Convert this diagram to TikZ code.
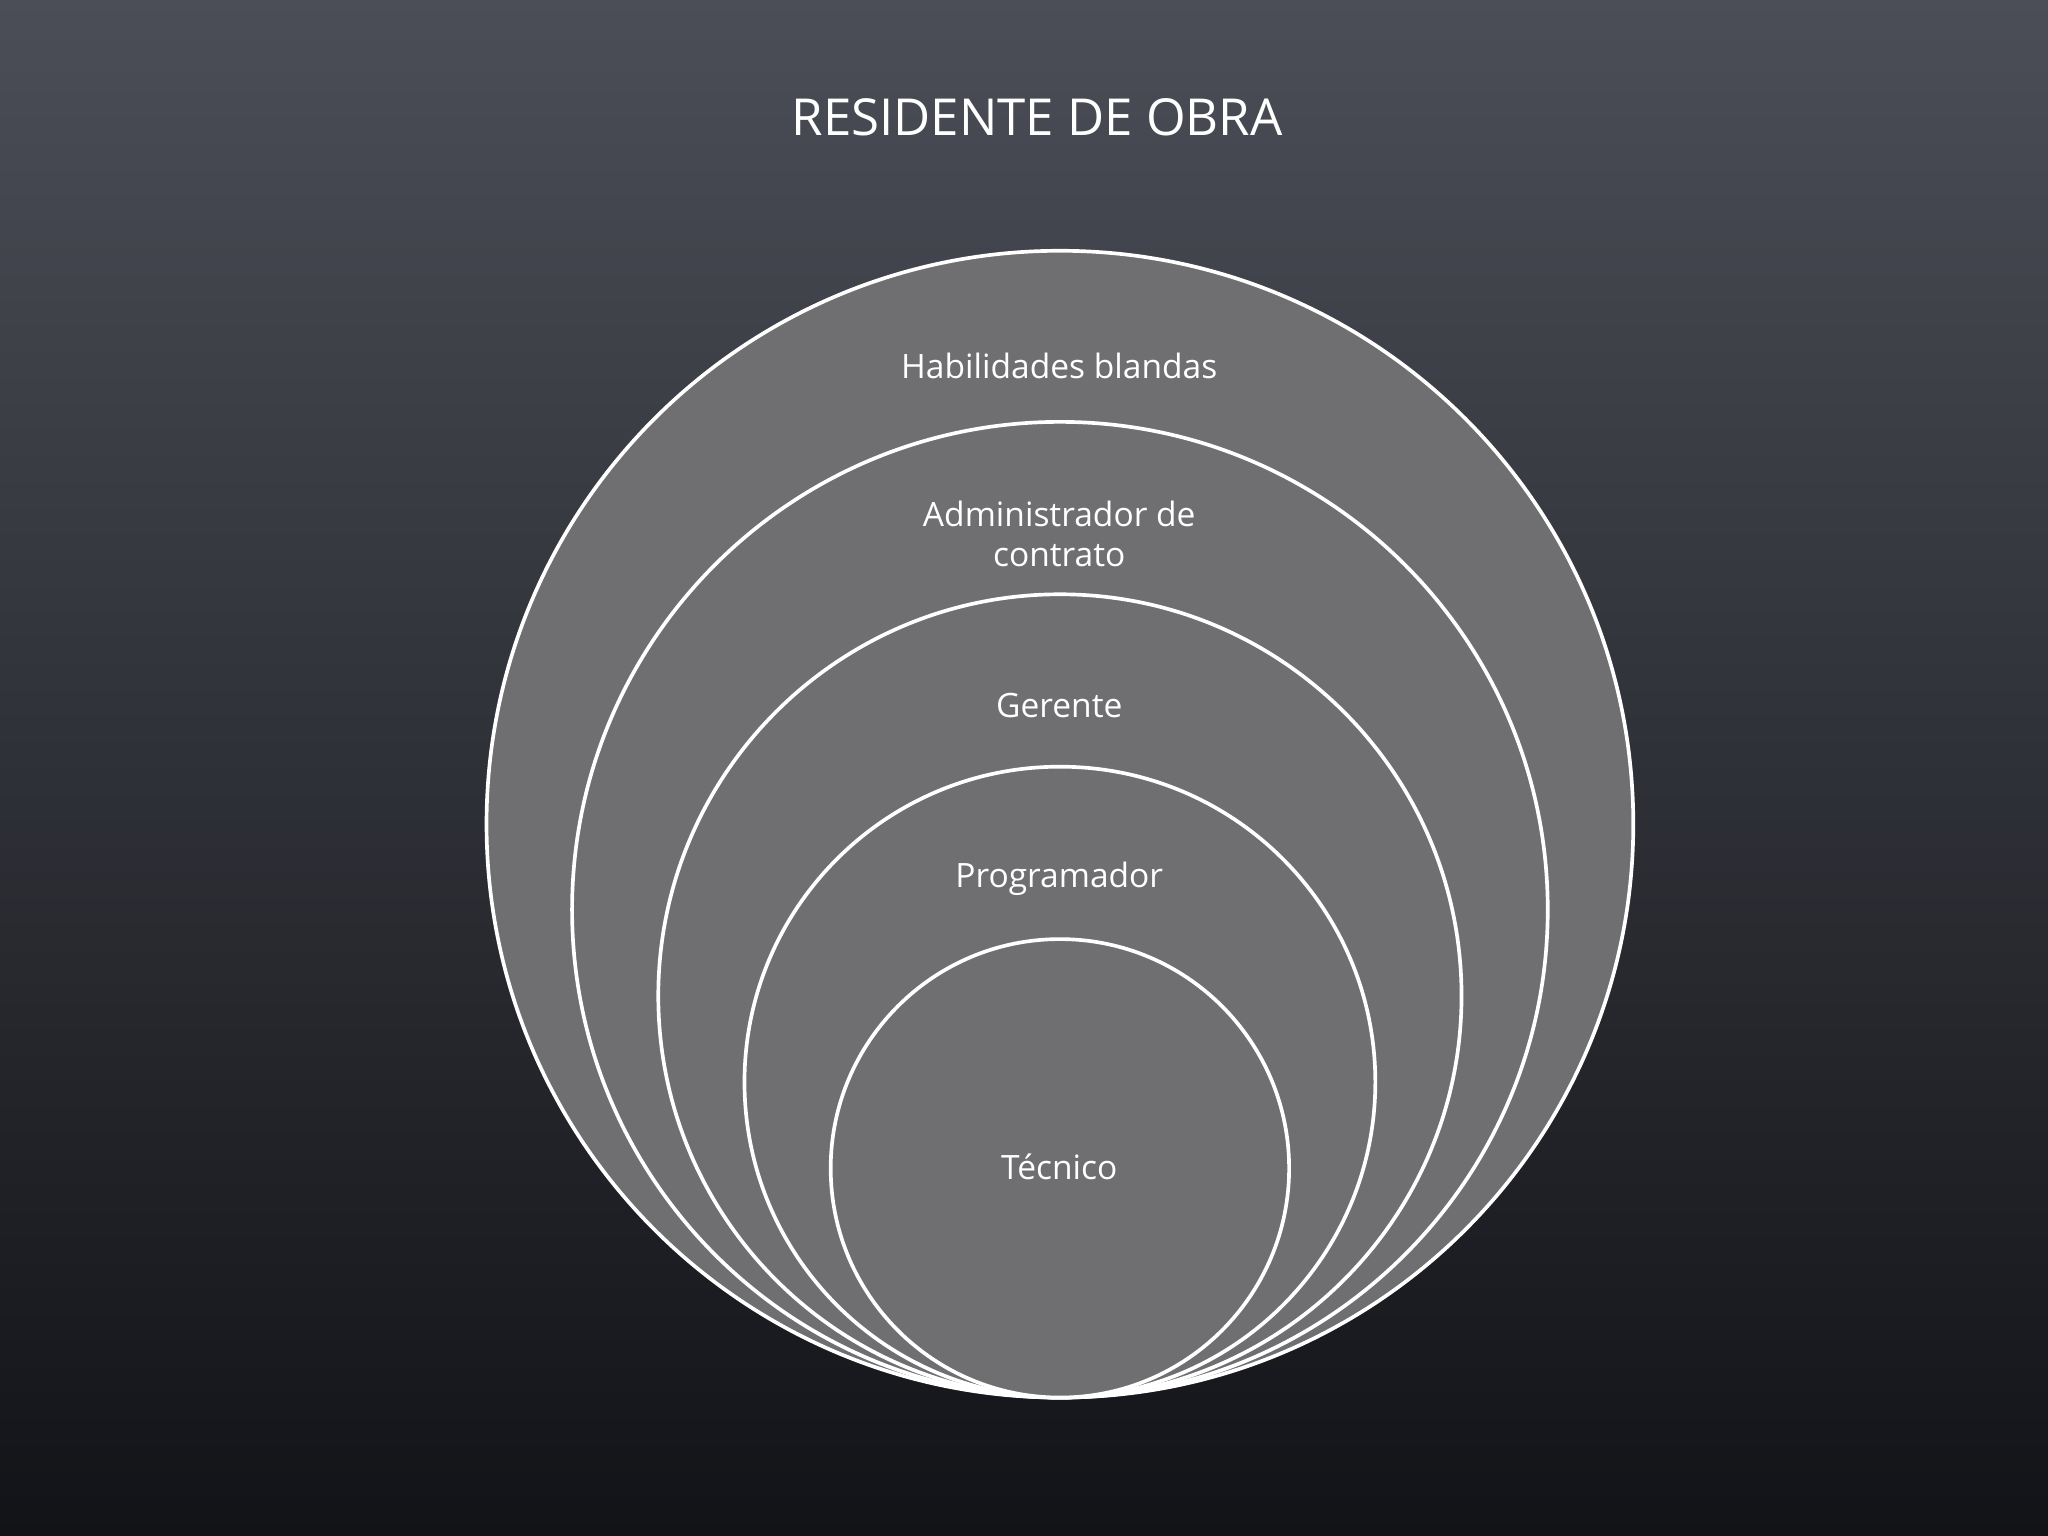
\documentclass[tikz,border=0pt]{standalone}
\usepackage{fontspec}
\setmainfont{Open Sans}
\begin{document}
\begin{tikzpicture}[x=0.01cm,y=-0.01cm,
  ring/.style={circle,draw=white,line width=0.8pt,fill=ringgrey,inner sep=0pt},
  lbl/.style={text=white,font=\fontsize{7.3pt}{8.8pt}\selectfont,align=center}]
\definecolor{ringgrey}{HTML}{6F6E71}
\definecolor{bgtop}{HTML}{4B4E57}
\definecolor{bgbot}{HTML}{121317}
\shade[top color=bgtop,bottom color=bgbot] (0,0) rectangle (1568,1176);
\useasboundingbox (0,0) rectangle (1568,1176);
\node[text=white,font=\fontsize{11.1pt}{13pt}\selectfont] (title) at (794,90) {RESIDENTE DE OBRA};
\node[ring,minimum size=878*0.01cm] (c1) at (811.5,631) {};
\node[ring,minimum size=747*0.01cm] (c2) at (811.5,696.5) {};
\node[ring,minimum size=615*0.01cm] (c3) at (811.5,762.5) {};
\node[ring,minimum size=483*0.01cm] (c4) at (811.5,828.5) {};
\node[ring,minimum size=351*0.01cm] (c5) at (811.5,894.5) {};
\node[lbl] (t1) at (811,280) {Habilidades blandas};
\node[lbl] (t2) at (811,409) {Administrador de\\contrato};
\node[lbl] (t3) at (811,540) {Gerente};
\node[lbl] (t4) at (811,673) {Programador};
\node[lbl] (t5) at (811,893) {Técnico};
\end{tikzpicture}
\end{document}
